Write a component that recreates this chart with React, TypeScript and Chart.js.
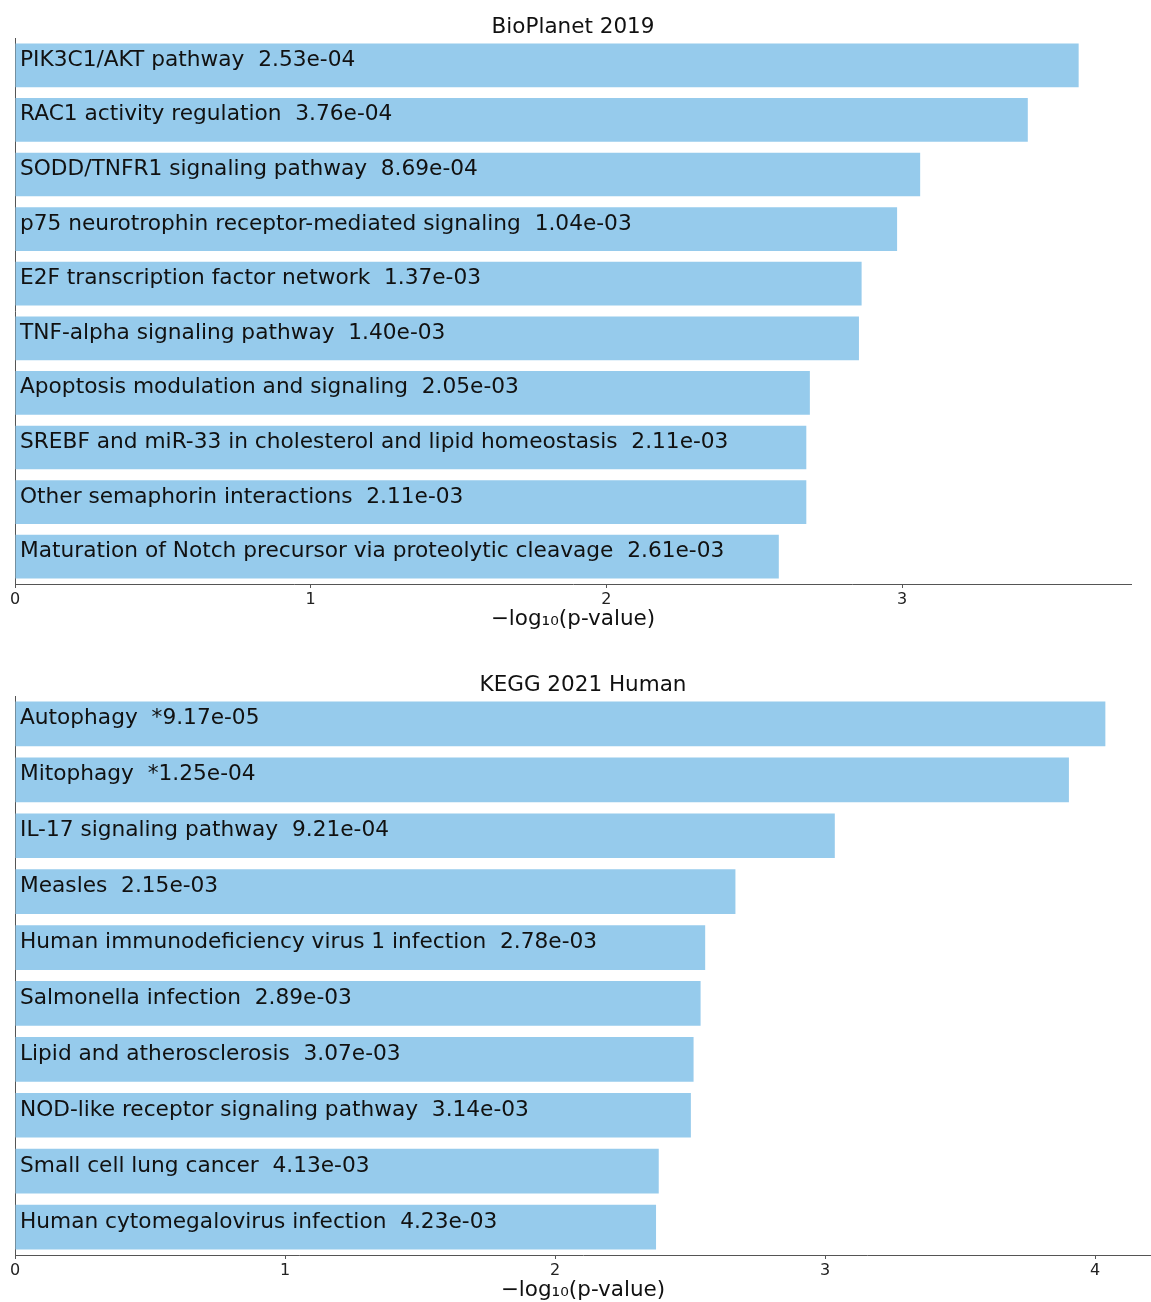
import React, { useEffect, useRef } from "react";
import { Chart, registerables } from "chart.js";

Chart.register(...registerables);

const FONT = "'DejaVu Sans', sans-serif";
const BAR_COLOR = "rgb(150, 203, 236)";
const AXIS_COLOR = "#555555";

// BioPlanet 2019
const bioTitle = "BioPlanet 2019";
const bioTerms = [
  "PIK3C1/AKT pathway",
  "RAC1 activity regulation",
  "SODD/TNFR1 signaling pathway",
  "p75 neurotrophin receptor-mediated signaling",
  "E2F transcription factor network",
  "TNF-alpha signaling pathway",
  "Apoptosis modulation and signaling",
  "SREBF and miR-33 in cholesterol and lipid homeostasis",
  "Other semaphorin interactions",
  "Maturation of Notch precursor via proteolytic cleavage",
];
const bioPvals = [
  "2.53e-04", "3.76e-04", "8.69e-04", "1.04e-03", "1.37e-03",
  "1.40e-03", "2.05e-03", "2.11e-03", "2.11e-03", "2.61e-03",
];
const bioScores = [3.597, 3.425, 3.061, 2.983, 2.863, 2.854, 2.688, 2.676, 2.676, 2.583];
const bioXMax = 3.774;

// KEGG 2021 Human
const keggTitle = "KEGG 2021 Human";
const keggTerms = [
  "Autophagy",
  "Mitophagy",
  "IL-17 signaling pathway",
  "Measles",
  "Human immunodeficiency virus 1 infection",
  "Salmonella infection",
  "Lipid and atherosclerosis",
  "NOD-like receptor signaling pathway",
  "Small cell lung cancer",
  "Human cytomegalovirus infection",
];
const keggPvals = [
  "*9.17e-05", "*1.25e-04", "9.21e-04", "2.15e-03", "2.78e-03",
  "2.89e-03", "3.07e-03", "3.14e-03", "4.13e-03", "4.23e-03",
];
const keggScores = [4.038, 3.903, 3.036, 2.668, 2.556, 2.539, 2.513, 2.503, 2.384, 2.374];
const keggXMax = 4.207;

const xTicks = [0, 1, 2, 3, 4];
const xLabel = "\u2212log\u2081\u2080(p-value)";

type PanelProps = {
  title: string;
  terms: string[];
  pvals: string[];
  scores: number[];
  xMax: number;
  width: number;
  height: number;
  titlePadTop: number;
  titlePadBottom: number;
  xScaleHeight: number;
  xTitlePadBottom: number;
  padRight: number;
};

function Panel(p: PanelProps) {
  const ref = useRef<HTMLCanvasElement | null>(null);
  useEffect(() => {
    if (!ref.current) return;
    const labelPlugin = {
      id: "barLabels",
      afterDatasetsDraw(chart: any) {
        const ctx = chart.ctx;
        const meta = chart.getDatasetMeta(0);
        ctx.save();
        ctx.font = `21.7px ${FONT}`;
        ctx.fillStyle = "#111111";
        ctx.textAlign = "left";
        ctx.textBaseline = "alphabetic";
        meta.data.forEach((bar: any, i: number) => {
          ctx.fillText(`${p.terms[i]}  ${p.pvals[i]}`, chart.chartArea.left + 5, bar.y + 0.5);
        });
        ctx.restore();
      },
    };
    const chart = new Chart(ref.current, {
      type: "bar",
      data: {
        labels: p.terms,
        datasets: [
          {
            data: p.scores,
            backgroundColor: BAR_COLOR,
            borderWidth: 0,
            barPercentage: 0.8,
            categoryPercentage: 1.0,
          },
        ],
      },
      options: {
        indexAxis: "y",
        responsive: false,
        animation: false,
        devicePixelRatio: 1,
        layout: { padding: { left: 15, right: p.padRight, top: 0, bottom: 0 } },
        plugins: {
          legend: { display: false },
          tooltip: { enabled: false },
          title: {
            display: true,
            text: p.title,
            color: "#111111",
            font: { family: FONT, size: 21.5, weight: "normal", lineHeight: 1.0 },
            padding: { top: p.titlePadTop, bottom: p.titlePadBottom },
          },
        },
        scales: {
          y: {
            type: "category",
            offset: true,
            grid: { display: false },
            ticks: { display: false },
            border: { display: true, color: AXIS_COLOR, width: 1 },
            afterFit: (s: any) => {
              s.width = 0;
            },
          },
          x: {
            type: "linear",
            min: 0,
            max: p.xMax,
            afterBuildTicks: (s: any) => {
              s.ticks = xTicks.filter((v) => v <= p.xMax).map((v) => ({ value: v }));
            },
            grid: {
              display: true,
              drawOnChartArea: false,
              drawTicks: true,
              tickLength: 4,
              color: AXIS_COLOR,
            },
            border: { display: true, color: AXIS_COLOR, width: 1 },
            ticks: {
              padding: 2,
              color: "#222222",
              font: { family: FONT, size: 16 },
              maxRotation: 0,
              callback: (v: any) => String(v),
            },
            title: {
              display: true,
              text: xLabel,
              color: "#111111",
              font: { family: FONT, size: 21.5, lineHeight: 1.0 },
              padding: { top: 0, bottom: p.xTitlePadBottom },
            },
            afterFit: (s: any) => {
              s.height = p.xScaleHeight;
            },
          },
        },
      } as any,
      plugins: [labelPlugin],
    });
    return () => chart.destroy();
  }, []);
  return (
    <canvas
      ref={ref}
      width={p.width}
      height={p.height}
      style={{ display: "block", width: p.width, height: p.height }}
    />
  );
}

export default function App() {
  return (
    <div
      style={{
        position: "absolute",
        left: 0,
        top: 0,
        width: 1151,
        height: 1302,
        overflow: "hidden",
        background: "#ffffff",
      }}
    >
      <Panel
        title={bioTitle}
        terms={bioTerms}
        pvals={bioPvals}
        scores={bioScores}
        xMax={bioXMax}
        width={1151}
        height={650}
        titlePadTop={16.5}
        titlePadBottom={0}
        xScaleHeight={66}
        xTitlePadBottom={20}
        padRight={20}
      />
      <Panel
        title={keggTitle}
        terms={keggTerms}
        pvals={keggPvals}
        scores={keggScores}
        xMax={keggXMax}
        width={1151}
        height={652}
        titlePadTop={24.5}
        titlePadBottom={0}
        xScaleHeight={47}
        xTitlePadBottom={1}
        padRight={0}
      />
    </div>
  );
}
